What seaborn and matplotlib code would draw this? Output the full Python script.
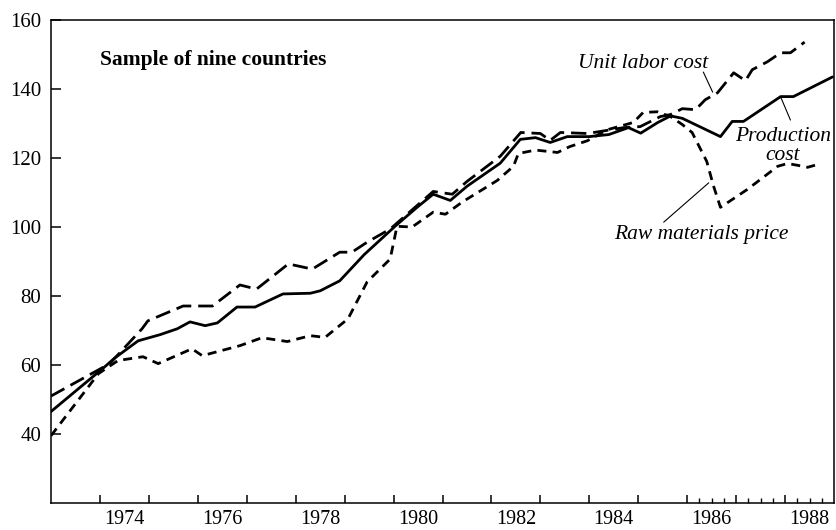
import pandas as pd
import matplotlib
matplotlib.use('Agg')
import matplotlib.pyplot as plt
import seaborn as sns

# ---------------------------------------------------------------
# Data (index, decimal years)
# ---------------------------------------------------------------
prod_years = [1973.0, 1974.1, 1974.3, 1974.78, 1975.23, 1975.58, 1975.84, 1976.15,
              1976.4, 1976.8, 1977.17, 1977.74, 1978.3, 1978.5, 1978.9, 1979.4,
              1980.03, 1980.48, 1980.81, 1981.16, 1981.5, 1982.18, 1982.59, 1982.9,
              1983.2, 1983.55, 1984.0, 1984.4, 1984.8, 1985.05, 1985.4, 1985.66,
              1985.9, 1986.68, 1986.92, 1987.15, 1987.91, 1988.17, 1988.97]
prod_cost = [46.5, 59.5, 62.0, 67.0, 68.8, 70.5, 72.5, 71.4,
             72.2, 76.8, 76.8, 80.6, 80.8, 81.5, 84.4, 92.0,
             100.2, 105.7, 109.5, 107.7, 111.8, 118.5, 125.4, 125.9,
             124.5, 126.2, 126.2, 126.8, 128.8, 127.2, 130.3, 132.2,
             131.5, 126.2, 130.6, 130.6, 137.8, 137.8, 143.5]

labor_years = [1973.0, 1974.2, 1974.86, 1974.98, 1975.7, 1976.3, 1976.86, 1977.2,
               1977.85, 1978.34, 1978.9, 1979.15, 1979.46, 1979.93, 1980.81, 1981.2,
               1981.5, 1982.18, 1982.6, 1983.0, 1983.2, 1983.41, 1983.96, 1984.23,
               1984.7, 1985.04, 1985.45, 1985.66, 1985.9, 1986.17, 1986.37, 1986.62,
               1986.95, 1987.19, 1987.33, 1987.64, 1987.91, 1988.11, 1988.4]
labor_cost = [51.0, 60.4, 70.5, 72.8, 77.1, 77.1, 83.2, 82.0,
              89.3, 87.8, 92.7, 92.7, 95.6, 99.4, 110.3, 109.5,
              113.2, 120.5, 127.4, 127.1, 125.1, 127.4, 127.1, 127.7,
              128.8, 129.1, 132.0, 132.6, 134.3, 134.0, 136.9, 138.9,
              144.7, 142.4, 145.6, 147.9, 150.5, 150.5, 153.6]

raw_years = [1973.0, 1973.97, 1974.37, 1974.88, 1975.19, 1975.88,
             1976.09, 1976.86, 1977.31, 1977.83, 1978.3, 1978.6, 1979.07, 1979.46,
             1979.93, 1980.07, 1980.38, 1980.81, 1981.06, 1981.4, 1982.12, 1982.45,
             1982.55, 1982.9, 1983.35, 1983.6, 1983.96, 1984.37, 1984.9, 1985.1,
             1985.39, 1985.66, 1985.9, 1986.1, 1986.4, 1986.54, 1986.68, 1987.23,
             1987.85, 1988.05, 1988.25, 1988.46, 1988.66]
raw_price = [39.5, 57.5, 61.3, 62.4, 60.4, 64.7,
             62.7, 65.6, 67.9, 66.8, 68.5, 68.0, 73.4, 84.1,
             90.7, 100.2, 100.0, 104.3, 103.7, 107.2, 113.5, 117.6,
             121.3, 122.3, 121.6, 123.3, 125.0, 128.2, 130.3, 133.2,
             133.4, 132.0, 129.7, 127.4, 119.0, 111.8, 105.7, 110.9,
             117.6, 118.4, 117.9, 117.3, 118.1]

year_ticks = list(range(1974, 1989))
quarter_ticks = [1986.25, 1986.5, 1986.75, 1987.25, 1987.5, 1987.75,
                 1988.25, 1988.5, 1988.75]
label_years = [1974, 1976, 1978, 1980, 1982, 1984, 1986, 1988]
y_ticks = [40, 60, 80, 100, 120, 140, 160]

df = pd.concat([
    pd.DataFrame({'ano': prod_years, 'indice': prod_cost, 'serie': 'Production cost'}),
    pd.DataFrame({'ano': labor_years, 'indice': labor_cost, 'serie': 'Unit labor cost'}),
    pd.DataFrame({'ano': raw_years, 'indice': raw_price, 'serie': 'Raw materials price'}),
], ignore_index=True)

# ---------------------------------------------------------------
# Style
# ---------------------------------------------------------------
sns.set_theme(style='ticks')
plt.rcParams['font.family'] = ['Liberation Serif', 'DejaVu Serif']
plt.rcParams['lines.scale_dashes'] = False

fig = plt.figure(figsize=(8.36, 5.30), dpi=100)
ax = fig.add_axes([51 / 836, 27 / 530, 783 / 836, 483 / 530])

sns.lineplot(
    data=df, x='ano', y='indice', style='serie', color='black', linewidth=2.0,
    dashes={'Production cost': '', 'Unit labor cost': (11, 5), 'Raw materials price': (6.5, 4.5)},
    estimator=None, sort=False, legend=False, ax=ax,
)

ax.set_xlim(1973, 1989)
ax.set_ylim(20, 160)
ax.set_xlabel('')
ax.set_ylabel('')

for s in ax.spines.values():
    s.set_visible(True)
    s.set_color('black')
    s.set_linewidth(1.1)

ax.set_xticks(year_ticks)
ax.set_xticklabels([''] * len(year_ticks))
ax.set_xticks(quarter_ticks, minor=True)
ax.set_yticks(y_ticks)
ax.set_yticklabels([str(v) for v in y_ticks], fontsize=15)
ax.tick_params(axis='x', which='major', direction='in', length=6, width=1.1, color='black')
ax.tick_params(axis='x', which='minor', direction='in', length=3.5, width=1.0, color='black')
ax.tick_params(axis='y', which='major', direction='in', length=7.5, width=1.1, color='black',
               pad=7, labelcolor='black')

# year labels centered on the year span
sec = ax.secondary_xaxis('bottom')
sec.set_xticks([y + 0.5 for y in label_years])
sec.set_xticklabels([str(y) for y in label_years], fontsize=14.5)
sec.tick_params(length=0, pad=5, labelcolor='black')
sec.spines['bottom'].set_visible(False)

# ---------------------------------------------------------------
# Annotations
# ---------------------------------------------------------------
ax.text(1974.0, 148.4, 'Sample of nine countries', fontsize=15.5, fontweight='bold',
        ha='left', va='center', color='black')
ax.text(1985.09, 147.5, 'Unit labor cost', fontsize=15.5, style='italic',
        ha='center', va='center', color='black')
ax.text(1987.95, 123.5, 'Production\ncost', fontsize=15.5, style='italic',
        ha='center', va='center', linespacing=1.0, color='black')
ax.text(1986.29, 97.7, 'Raw materials price', fontsize=15.5, style='italic',
        ha='center', va='center', color='black')

leader = dict(arrowstyle='-', color='black', lw=0.8, shrinkA=0, shrinkB=0)
ax.annotate('', xy=(1986.52, 139.1), xytext=(1986.33, 144.9), arrowprops=leader)
ax.annotate('', xy=(1987.91, 137.7), xytext=(1988.11, 131.0), arrowprops=leader)
ax.annotate('', xy=(1986.44, 112.8), xytext=(1985.52, 101.4), arrowprops=leader)

plt.savefig('out.png', dpi=100)
